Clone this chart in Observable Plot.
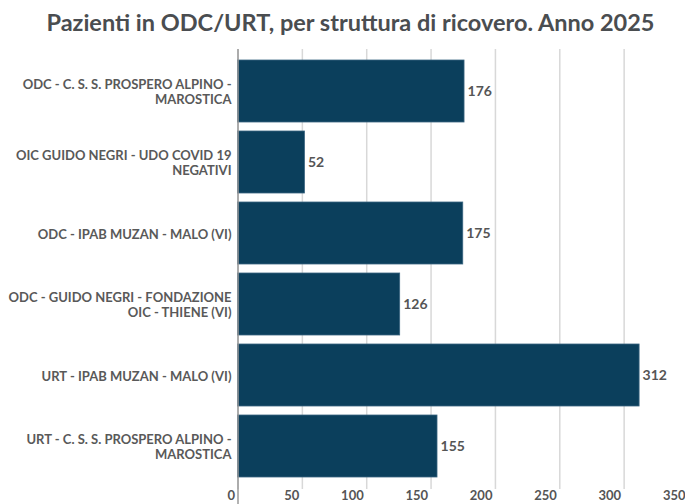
<!DOCTYPE html>
<html>
<head>
<meta charset="utf-8">
<script src="https://cdn.jsdelivr.net/npm/d3@7"></script>
<script src="https://cdn.jsdelivr.net/npm/@observablehq/plot@0.6"></script>
<style>
  html, body { margin: 0; padding: 0; background: #fff; }
  body { width: 685px; height: 504px; overflow: hidden; font-family: Lato, sans-serif; }
  #title { height: 44px; line-height: 44px; text-align: center; padding-left: 16px; font-size: 23.5px; font-weight: 700; color: #4a4d50; white-space: nowrap; }
  #chart svg { display: block; }
</style>
</head>
<body>
<div id="title">Pazienti in ODC/URT, per struttura di ricovero. Anno 2025</div>
<div id="chart"></div>
<script>
const categories = [
  "ODC - C. S. S. PROSPERO ALPINO - MAROSTICA",
  "OIC GUIDO NEGRI - UDO COVID 19 NEGATIVI",
  "ODC - IPAB MUZAN - MALO (VI)",
  "ODC - GUIDO NEGRI - FONDAZIONE OIC - THIENE (VI)",
  "URT - IPAB MUZAN - MALO (VI)",
  "URT - C. S. S. PROSPERO ALPINO - MAROSTICA"
];
const values = [176, 52, 175, 126, 312, 155];
const xTicks = [0, 50, 100, 150, 200, 250, 300, 350];

const data = categories.map((c, i) => ({name: c, value: values[i]}));

function wrap(s, max = 32) {
  if (s.length <= max) return s;
  const cut = s.lastIndexOf(" ", max);
  return s.slice(0, cut) + "\n" + s.slice(cut + 1);
}

const plot = Plot.plot({
  width: 685,
  height: 460,
  marginLeft: 237,
  marginRight: 0,
  marginTop: 5,
  marginBottom: 15,
  style: {fontFamily: "Lato, sans-serif", overflow: "visible"},
  x: {domain: [0, 350], range: [237.5, 688]},
  y: {domain: categories, padding: 0.12},
  marks: [
    Plot.gridX(xTicks, {stroke: "#d8d8d8", strokeOpacity: 1, strokeWidth: 1.5}),
    Plot.barX(data, {x: "value", y: "name", fill: "#0b3f5c", stroke: "#3a6580", strokeWidth: 0.8}),
    Plot.text(data, {x: "value", y: "name", text: d => String(d.value), textAnchor: "start", dx: 3, fontSize: 14, fontWeight: 700, fill: "#555"}),
    Plot.ruleX([0], {stroke: "#9a9a9a", strokeWidth: 1.5, insetBottom: -20}),
    Plot.axisY({tickSize: 0, tickPadding: 6, tickFormat: d => wrap(d), fontSize: 13, fontWeight: 700, fill: "#595959", lineHeight: 1.2, label: null}),
    Plot.axisX(xTicks, {tickSize: 0, tickPadding: 1, fontSize: 13, fontWeight: 700, fill: "#555", textAnchor: "end", dx: -3, label: null})
  ]
});
document.getElementById("chart").appendChild(plot);
</script>
</body>
</html>
